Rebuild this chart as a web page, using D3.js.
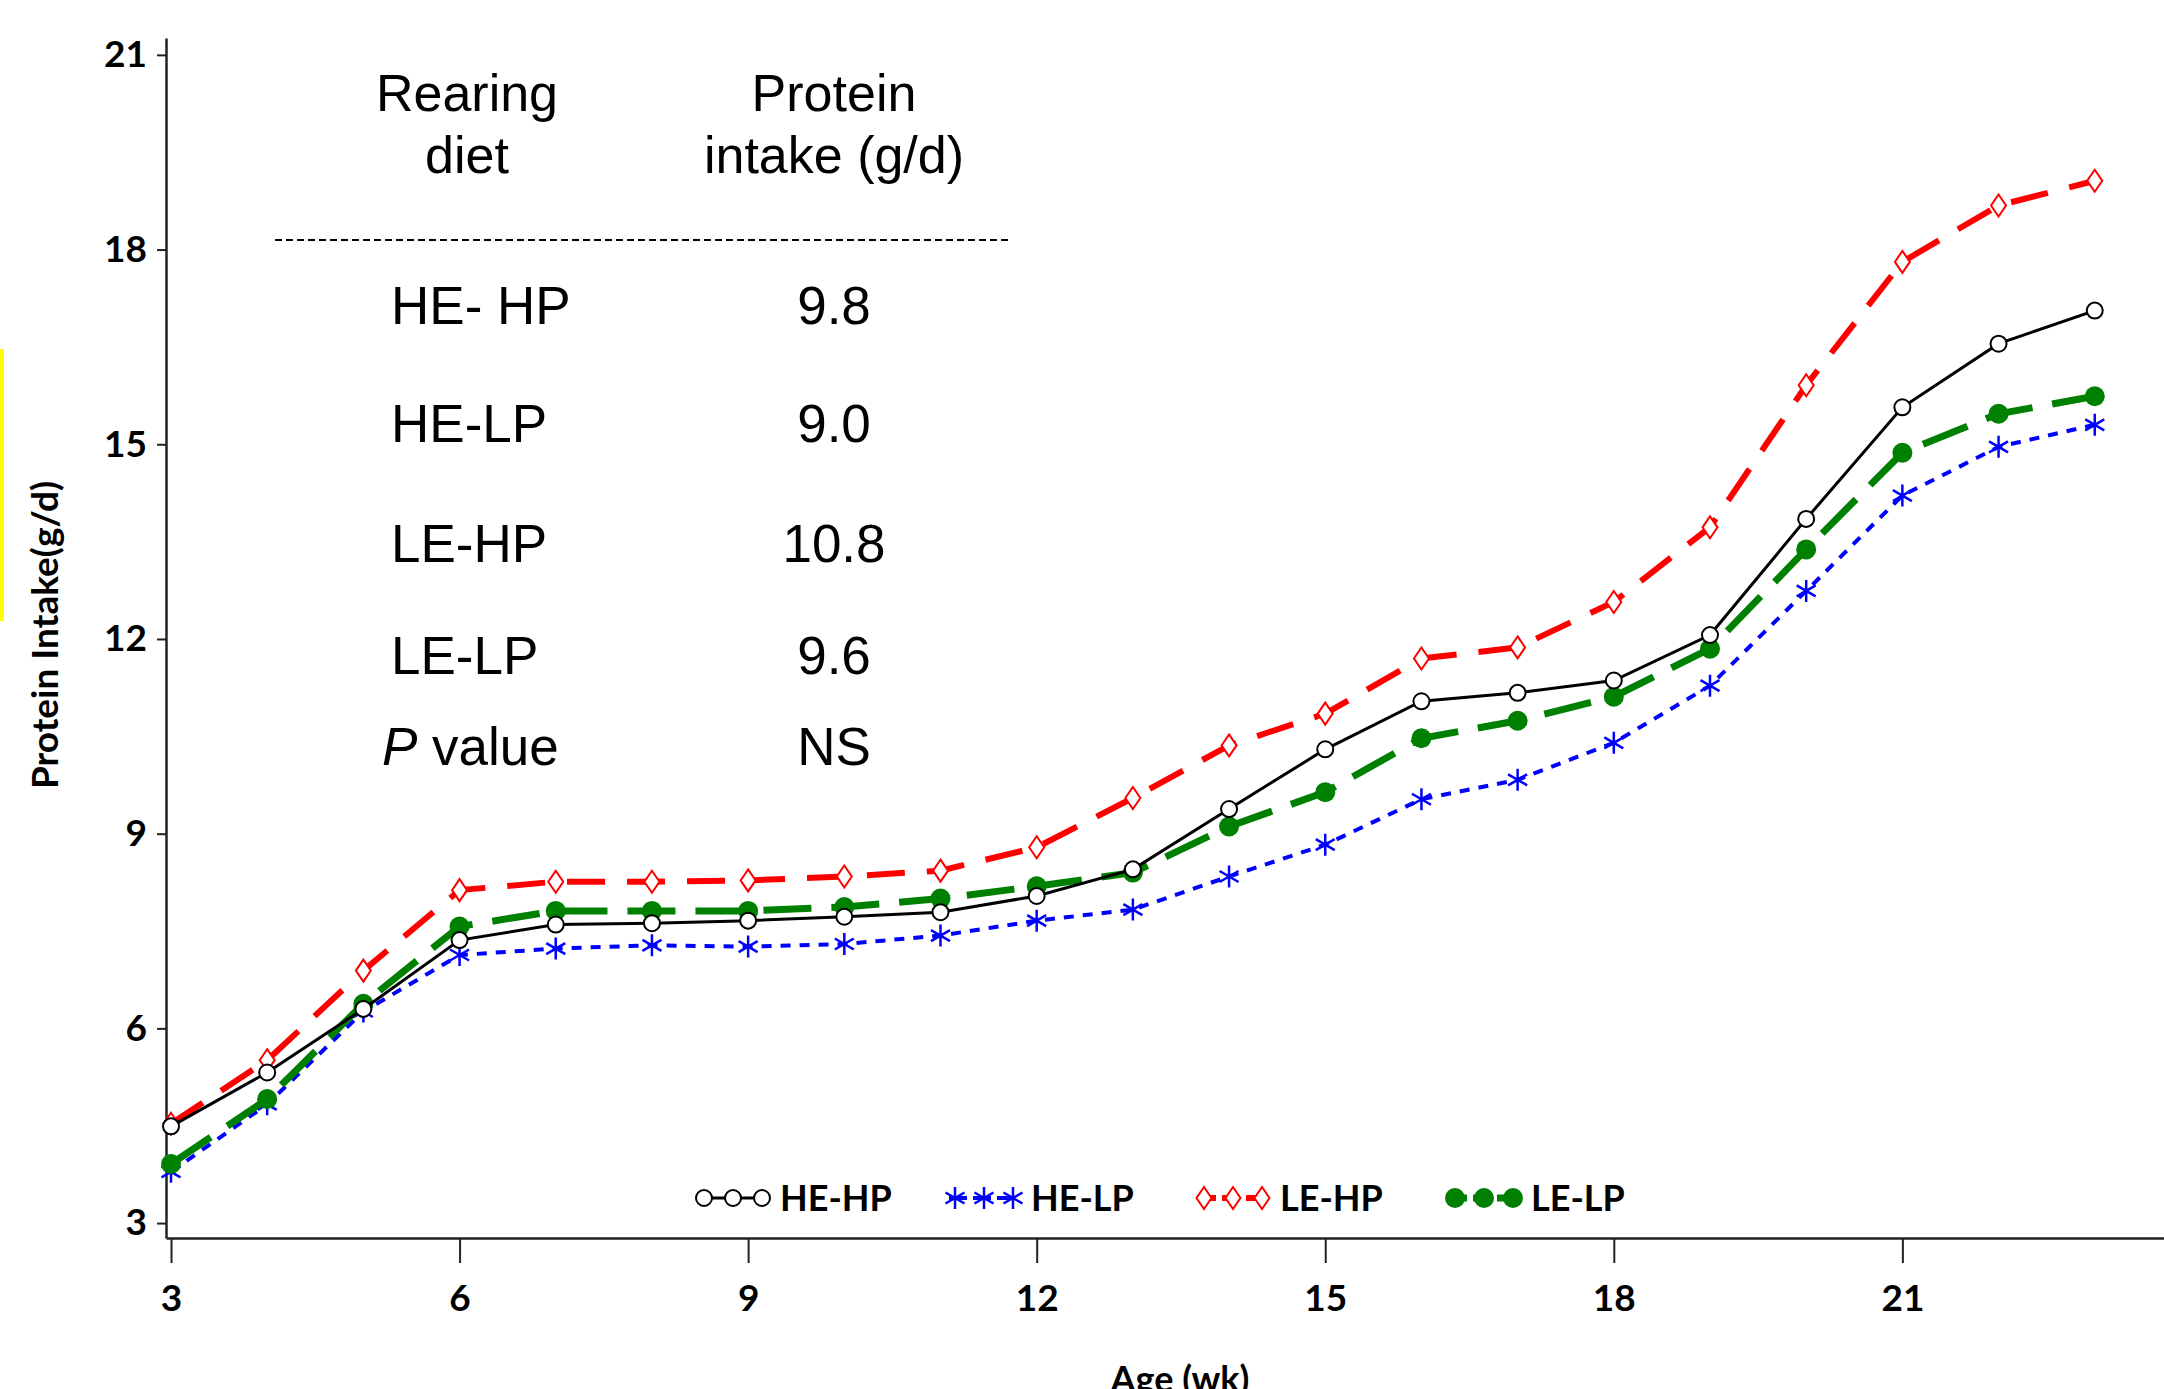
<!DOCTYPE html>
<html>
<head>
<meta charset="utf-8">
<script src="https://cdn.jsdelivr.net/npm/d3@7"></script>
<style>
  html, body { margin: 0; padding: 0; background: #fff; }
  svg { display: block; }
</style>
</head>
<body>
<div id="chart"></div>
<script>
// age in weeks
const weeks = [3, 4, 5, 6, 7, 8, 9, 10, 11, 12, 13, 14, 15, 16, 17, 18, 19, 20, 21, 22, 23];

// protein intake (g/d) per rearing diet
const heHp = [4.49, 5.32, 6.30, 7.36, 7.60, 7.62, 7.66, 7.72, 7.79, 8.04, 8.45, 9.38, 10.30, 11.04, 11.17, 11.36, 12.06, 13.85, 15.57, 16.55, 17.06];
const heLp = [3.79, 4.83, 6.26, 7.13, 7.23, 7.28, 7.26, 7.30, 7.43, 7.66, 7.83, 8.34, 8.83, 9.53, 9.83, 10.40, 11.28, 12.74, 14.21, 14.96, 15.30];
const leHp = [4.53, 5.51, 6.89, 8.13, 8.26, 8.26, 8.28, 8.34, 8.43, 8.79, 9.55, 10.36, 10.85, 11.70, 11.87, 12.57, 13.72, 15.91, 17.81, 18.68, 19.06];
const leLp = [3.91, 4.91, 6.38, 7.57, 7.81, 7.81, 7.81, 7.87, 8.00, 8.19, 8.40, 9.11, 9.64, 10.47, 10.74, 11.11, 11.85, 13.38, 14.87, 15.47, 15.74];

const seriesNames = ['HE-HP', 'HE-LP', 'LE-HP', 'LE-LP'];

const xTicks = [3, 6, 9, 12, 15, 18, 21];
const yTicks = [3, 6, 9, 12, 15, 18, 21];

// inset table
const tableHead = [['Rearing', 'diet'], ['Protein', 'intake (g/d)']];
const tableDiets = ['HE- HP', 'HE-LP', 'LE-HP', 'LE-LP'];
const tableIntake = ['9.8', '9.0', '10.8', '9.6'];
const tablePLabel = 'value';
const tablePValue = 'NS';

const W = 2164, H = 1389;

const styles = {
  'HE-HP': { color: '#000000', width: 3, dash: null, marker: 'circle' },
  'HE-LP': { color: '#0000ff', width: 4, dash: '10,9', marker: 'star' },
  'LE-HP': { color: '#ff0000', width: 6, dash: '38,22', marker: 'diamond' },
  'LE-LP': { color: '#008000', width: 7, dash: '48,20', marker: 'dot' }
};

const series = [
  { name: 'HE-LP', values: heLp },
  { name: 'LE-HP', values: leHp },
  { name: 'LE-LP', values: leLp },
  { name: 'HE-HP', values: heHp }
];

const svg = d3.select('#chart').append('svg')
  .attr('width', W)
  .attr('height', H)
  .style('font-family', 'Lato, "DejaVu Sans", sans-serif');

const x = d3.scaleLinear().domain([2.948, 23.72]).range([166, 2164]);
const y = d3.scaleLinear().domain([2.77, 21.26]).range([1238, 38]);

// yellow mark at the left edge
svg.append('rect')
  .attr('x', 0).attr('y', 349)
  .attr('width', 4).attr('height', 272)
  .attr('fill', '#ffff00');

// axes
const gx = svg.append('g')
  .attr('transform', `translate(0,${y.range()[0]})`)
  .call(d3.axisBottom(x).tickValues(xTicks).tickSize(25).tickSizeOuter(0).tickPadding(15));

const gy = svg.append('g')
  .attr('transform', `translate(${x.range()[0]},0)`)
  .call(d3.axisLeft(y).tickValues(yTicks).tickSize(9).tickSizeOuter(0).tickPadding(10));

[gx, gy].forEach(g => {
  g.select('.domain').attr('stroke', '#222').attr('stroke-width', 2.5);
  g.selectAll('.tick line').attr('stroke', '#222').attr('stroke-width', 2);
  g.selectAll('.tick text')
    .attr('fill', '#000')
    .style('font-size', '37px')
    .style('font-weight', 'bold')
    .style('font-family', 'Lato, sans-serif');
});
gx.selectAll('.tick text').attr('dy', '0.9em');

// axis titles
svg.append('text')
  .attr('x', 1180).attr('y', 1392)
  .attr('text-anchor', 'middle')
  .style('font-size', '36px').style('font-weight', 'bold')
  .text('Age (wk)');

svg.append('text')
  .attr('transform', 'translate(58,635) rotate(-90)')
  .attr('text-anchor', 'middle')
  .style('font-size', '37px').style('font-weight', 'bold')
  .text('Protein Intake(g/d)');

// markers
function drawMarker(g, type, color) {
  if (type === 'circle') {
    g.append('circle').attr('r', 8)
      .attr('fill', '#fff').attr('stroke', color).attr('stroke-width', 2);
  } else if (type === 'dot') {
    g.append('circle').attr('r', 10).attr('fill', color);
  } else if (type === 'diamond') {
    g.append('path').attr('d', 'M0,-11L7.5,0L0,11L-7.5,0Z')
      .attr('fill', '#fff').attr('stroke', color).attr('stroke-width', 2);
  } else if (type === 'star') {
    g.append('path')
      .attr('d', 'M0,-11V11M-9.5,-5.5L9.5,5.5M-9.5,5.5L9.5,-5.5')
      .attr('stroke', color).attr('stroke-width', 2.5).attr('fill', 'none');
  }
}

const line = d3.line()
  .x((d, i) => x(weeks[i]))
  .y(d => y(d));

const gSeries = svg.append('g').selectAll('g')
  .data(series)
  .join('g');

gSeries.append('path')
  .attr('d', d => line(d.values))
  .attr('fill', 'none')
  .attr('stroke', d => styles[d.name].color)
  .attr('stroke-width', d => styles[d.name].width)
  .attr('stroke-dasharray', d => styles[d.name].dash);

gSeries.each(function (s) {
  const st = styles[s.name];
  d3.select(this).selectAll('g.pt')
    .data(s.values)
    .join('g')
    .attr('class', 'pt')
    .attr('transform', (d, i) => `translate(${x(weeks[i])},${y(d)})`)
    .each(function () { drawMarker(d3.select(this), st.marker, st.color); });
});

// legend
const legendX = [698, 949, 1198, 1449];
const legendY = 1198;
seriesNames.forEach((name, i) => {
  const st = styles[name];
  const g = svg.append('g').attr('transform', `translate(${legendX[i]},${legendY})`);
  g.append('line')
    .attr('x1', 0).attr('x2', 70)
    .attr('stroke', st.color)
    .attr('stroke-width', st.width)
    .attr('stroke-dasharray', st.dash ? '18,6' : null);
  [6, 35, 64].forEach(mx => {
    drawMarker(g.append('g').attr('transform', `translate(${mx},0)`), st.marker, st.color);
  });
  g.append('text')
    .attr('x', 82).attr('y', 13)
    .style('font-size', '36px').style('font-weight', 'bold')
    .text(name);
});

// inset table
const tbl = svg.append('g')
  .style('font-family', '"Liberation Sans", Arial, sans-serif')
  .style('font-size', '52px');

const colX = [467, 834];
tableHead.forEach((lines, c) => {
  lines.forEach((t, k) => {
    tbl.append('text')
      .attr('x', colX[c]).attr('y', 111 + k * 62)
      .attr('text-anchor', 'middle')
      .text(t);
  });
});

tbl.append('line')
  .attr('x1', 275).attr('x2', 1009)
  .attr('y1', 240).attr('y2', 240)
  .attr('stroke', '#000').attr('stroke-width', 2)
  .attr('stroke-dasharray', '7,4');

const rowY = [324, 442, 562, 674];
tableDiets.forEach((t, k) => {
  tbl.append('text')
    .attr('x', 391).attr('y', rowY[k])
    .style('font-size', '53px')
    .text(t);
  tbl.append('text')
    .attr('x', colX[1]).attr('y', rowY[k])
    .attr('text-anchor', 'middle')
    .style('font-size', '53px')
    .text(tableIntake[k]);
});

const pRow = tbl.append('text')
  .attr('x', 382).attr('y', 765)
  .style('font-size', '53px');
pRow.append('tspan').style('font-style', 'italic').text('P');
pRow.append('tspan').text(' ' + tablePLabel);

tbl.append('text')
  .attr('x', colX[1]).attr('y', 765)
  .attr('text-anchor', 'middle')
  .style('font-size', '53px')
  .text(tablePValue);
</script>
</body>
</html>
